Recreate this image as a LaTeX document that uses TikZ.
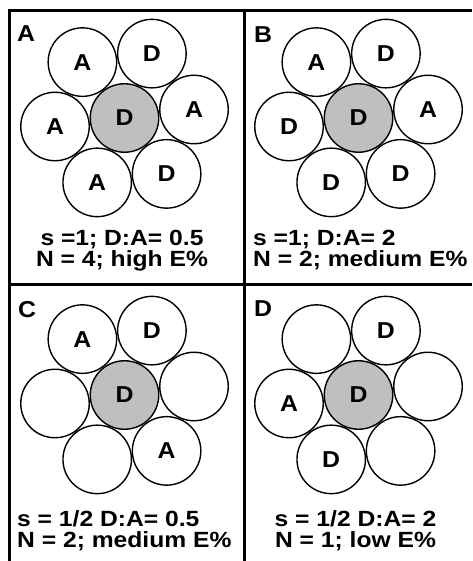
\documentclass[tikz,border=0pt]{standalone}
\usepackage{fontspec}
\setmainfont{Liberation Sans}
\usepackage{graphicx}
\newcommand{\wtxt}[1]{\scalebox{1.08}[1]{#1}}
\newcommand{\ctxt}[1]{\scalebox{1.12}[1]{#1}}
\tikzset{
  cell/.style={circle, draw=black, fill=white, line width=1.4pt, minimum size=68.5pt, inner sep=0pt,
    font=\fontsize{23}{23}\selectfont\bfseries},
  core/.style={cell, fill=gray!50},
  lbl/.style={inner sep=0pt, font=\fontsize{23}{23}\selectfont\bfseries},
  txt/.style={inner sep=0pt, font=\fontsize{22}{20.7}\selectfont\bfseries},
  frame/.style={line width=3pt, draw=black}
}
\begin{document}
\begin{tikzpicture}[x=1pt,y=-1pt]
\useasboundingbox (0,0) rectangle (472,561);
% frame
\draw[frame] (8,11) -- (472,11);
\draw[frame] (9.5,9.5) -- (9.5,561);
\draw[frame] (244,11) -- (244,561);
\draw[frame] (9.5,284.5) -- (472,284.5);
% Panel A
\begin{scope}[shift={(0,0)}]
\node[cell] (a1) at (194.0,109.5) {\wtxt{A}};
\node[cell] (a2) at (151.9,53.6) {\wtxt{D}};
\node[cell] (a3) at (82.4,62.1) {\wtxt{A}};
\node[cell] (a4) at (55.0,126.5) {\wtxt{A}};
\node[cell] (a5) at (97.2,182.4) {\wtxt{A}};
\node[cell] (a6) at (166.6,173.9) {\wtxt{D}};
\node[core] (a0) at (124.5,118) {\wtxt{D}};
\end{scope}
\node[lbl, anchor=base west] (la) at (17,42) {\wtxt{A}};
\node[txt, anchor=base, align=center] (ta) at (122,266.5) {\ctxt{s =1; D:A= 0.5}\\\ctxt{N = 4; high E\%}};
% Panel B
\begin{scope}[shift={(234,0)}]
\node[cell] (b1) at (194.0,109.5) {\wtxt{A}};
\node[cell] (b2) at (151.9,53.6) {\wtxt{D}};
\node[cell] (b3) at (82.4,62.1) {\wtxt{A}};
\node[cell] (b4) at (55.0,126.5) {\wtxt{D}};
\node[cell] (b5) at (97.2,182.4) {\wtxt{D}};
\node[cell] (b6) at (166.6,173.9) {\wtxt{D}};
\node[core] (b0) at (124.5,118) {\wtxt{D}};
\end{scope}
\node[lbl, anchor=base west] (lb) at (254,43) {\wtxt{B}};
\node[txt, anchor=base west, align=left] (tb) at (253,266.5) {\ctxt{s =1; D:A= 2}\\\ctxt{N = 2; medium E\%}};
% Panel C
\begin{scope}[shift={(0,277)}]
\node[cell] (c1) at (194.0,109.5) {};
\node[cell] (c2) at (151.9,53.6) {\wtxt{D}};
\node[cell] (c3) at (82.4,62.1) {\wtxt{A}};
\node[cell] (c4) at (55.0,126.5) {};
\node[cell] (c5) at (97.2,182.4) {};
\node[cell] (c6) at (166.6,173.9) {\wtxt{A}};
\node[core] (c0) at (124.5,118) {\wtxt{D}};
\end{scope}
\node[lbl, anchor=base west] (lc) at (18,317) {\wtxt{C}};
\node[txt, anchor=base west, align=left] (tc) at (17,547.5) {\ctxt{s = 1/2 D:A= 0.5}\\\ctxt{N = 2; medium E\%}};
% Panel D
\begin{scope}[shift={(234,277)}]
\node[cell] (d1) at (194.0,109.5) {};
\node[cell] (d2) at (151.9,53.6) {\wtxt{D}};
\node[cell] (d3) at (82.4,62.1) {};
\node[cell] (d4) at (55.0,126.5) {\wtxt{A}};
\node[cell] (d5) at (97.2,182.4) {\wtxt{D}};
\node[cell] (d6) at (166.6,173.9) {};
\node[core] (d0) at (124.5,118) {\wtxt{D}};
\end{scope}
\node[lbl, anchor=base west] (ld) at (254,316) {\wtxt{D}};
\node[txt, anchor=base, align=center] (td) at (355.5,547.5) {\ctxt{s = 1/2 D:A= 2}\\\ctxt{N = 1; low E\%}};
\end{tikzpicture}
\end{document}
